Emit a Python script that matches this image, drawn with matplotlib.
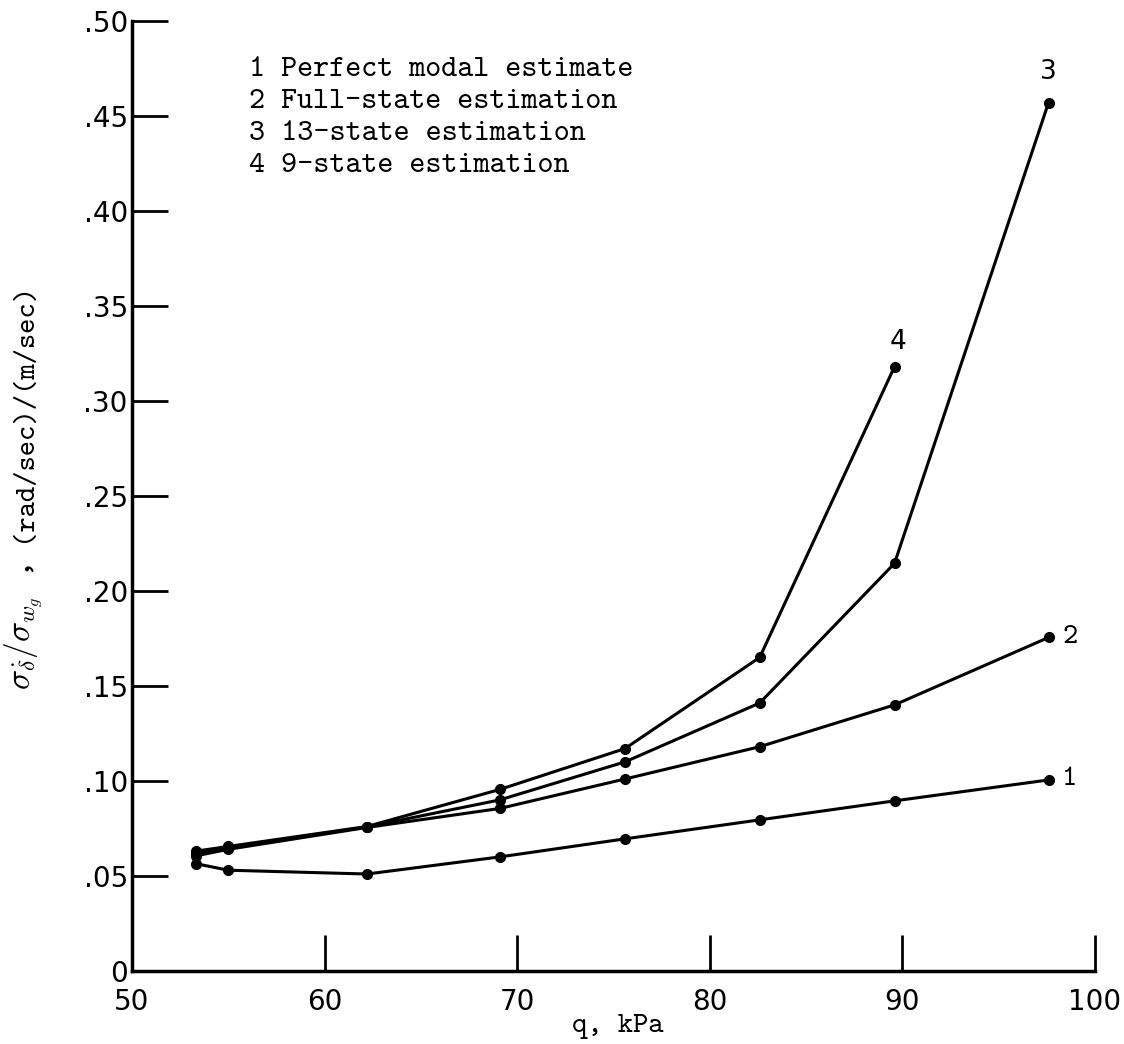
import numpy as np
import matplotlib
matplotlib.use('Agg')
import matplotlib.pyplot as plt

plt.rcParams['mathtext.fontset'] = 'cm'

# dynamic pressure, kPa
q = [53.3, 55.0, 62.2, 69.1, 75.6, 82.6, 89.6, 97.6]
q4 = q[:7]

# sigma ratio per curve
perfect_modal = [0.0565, 0.0530, 0.0510, 0.0600, 0.0695, 0.0795, 0.0895, 0.1005]
full_state = [0.0605, 0.0640, 0.0755, 0.0855, 0.1010, 0.1180, 0.1400, 0.1755]
state13 = [0.0620, 0.0650, 0.0758, 0.0900, 0.1100, 0.1410, 0.2145, 0.4570]
state9 = [0.0630, 0.0655, 0.0760, 0.0955, 0.1170, 0.1650, 0.3180]

legend_lines = ['1 Perfect modal estimate', '2 Full-state estimation',
                '3 13-state estimation', '4 9-state estimation']

xticks = [50, 60, 70, 80, 90, 100]
yticks = [0, 0.05, 0.10, 0.15, 0.20, 0.25, 0.30, 0.35, 0.40, 0.45, 0.50]
ytick_labels = ['0', '.05', '.10', '.15', '.20', '.25', '.30', '.35', '.40', '.45', '.50']

mono = ['cmtt10', 'Liberation Mono']
narrow = ['Liberation Sans Narrow', 'DejaVu Sans']

fig = plt.figure(figsize=(11.24, 10.44), dpi=100, facecolor='white')
ax = fig.add_axes([0.1174, 0.070, 0.8566, 0.910])

kw = dict(color='black', lw=2.2, marker='o', ms=7, clip_on=False, zorder=3)
ax.plot(q, perfect_modal, **kw)
ax.plot(q, full_state, **kw)
ax.plot(q, state13, **kw)
ax.plot(q4, state9, **kw)

# curve numbers
ax.text(q[-1] + 0.7, perfect_modal[-1], '1', family=mono, fontsize=21, va='center', ha='left')
ax.text(q[-1] + 0.7, full_state[-1], '2', family=mono, fontsize=21, va='center', ha='left')
ax.text(q[-1], state13[-1] + 0.009, '3', family=narrow, fontsize=19, va='bottom', ha='center')
ax.text(q4[-1] + 0.2, state9[-1] + 0.006, '4', family=narrow, fontsize=19, va='bottom', ha='center')

# key in upper left
for i, line in enumerate(legend_lines):
    ax.text(56.1, 0.474 - i * 0.0168, line, family=mono, fontsize=22, va='center', ha='left')

ax.set_xlim(50, 100)
ax.set_ylim(0, 0.50)
ax.set_xticks(xticks)
ax.set_xticklabels([str(v) for v in xticks], family=narrow, fontsize=20)
ax.set_yticks(yticks)
ax.set_yticklabels(ytick_labels, family=narrow, fontsize=20)
ax.tick_params(direction='in', length=26, width=2, pad=3, colors='black')
ax.tick_params(axis='x', pad=12)

for s in ['top', 'right']:
    ax.spines[s].set_visible(False)
for s in ['left', 'bottom']:
    ax.spines[s].set_linewidth(2.5)

ax.set_xlabel('q, kPa', family=mono, fontsize=21)
ax.xaxis.set_label_coords(0.505, -0.045)

# y label in two pieces so the sigma ratio can be a bit larger
ax.text(-0.106, 0.296, r'$\sigma_{\dot{\delta}}/\sigma_{w_g}$ ,', transform=ax.transAxes,
        rotation=90, rotation_mode='anchor', fontsize=24, ha='left', va='baseline', family=mono)
ax.text(-0.106, 0.4516, '(rad/sec)/(m/sec)', transform=ax.transAxes,
        rotation=90, rotation_mode='anchor', fontsize=21, ha='left', va='baseline', family=mono)

fig.savefig('out.png', dpi=100, facecolor='white')
